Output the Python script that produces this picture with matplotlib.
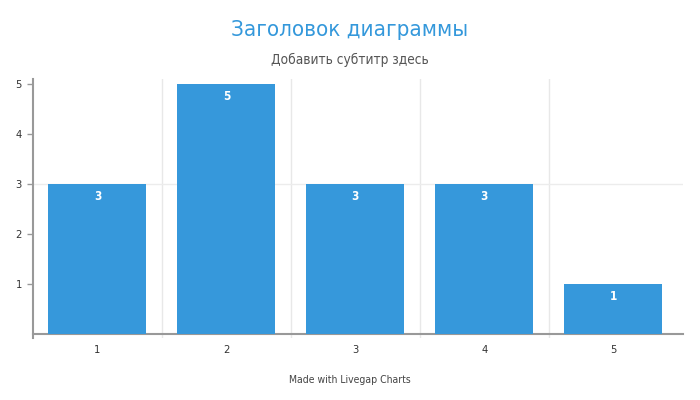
import matplotlib
matplotlib.use("Agg")
import matplotlib.pyplot as plt

# chart data
categories = ["1", "2", "3", "4", "5"]
values = [3, 5, 3, 3, 1]
yticks = [1, 2, 3, 4, 5]

title = "Заголовок диаграммы"
subtitle = "Добавить субтитр здесь"
footer = "Made with Livegap Charts"

plt.rcParams['font.family'] = ['DejaVu Sans']
plt.rcParams['font.stretch'] = 'condensed'

fig = plt.figure(figsize=(7, 4), dpi=100)
ax = fig.add_axes([33 / 700, 1 - 338 / 400, 650 / 700, (338 - 79) / 400])

x = range(len(categories))
bars = ax.bar(x, values, width=0.76, color="#3698db", zorder=3)

# value labels inside the top of each bar
for b, v in zip(bars, values):
    ax.annotate(str(v), (b.get_x() + b.get_width() / 2, v), xytext=(0, -9),
                textcoords="offset points", ha="center", va="center",
                color="white", fontsize=8.5, fontweight="bold", zorder=4)

ax.set_xlim(-0.5, 4.54)
ax.set_ylim(-0.08, 5.1)

# vertical separators between categories
for bx in [0.5, 1.5, 2.5, 3.5]:
    ax.axvline(bx, color="#e8e8e8", lw=1, zorder=1)
ax.axhline(3, color="#ececec", lw=1, zorder=1)

ax.set_xticks(list(x))
ax.set_xticklabels(categories)
ax.set_yticks(yticks)
ax.tick_params(axis="x", length=0, pad=8, labelsize=8, labelcolor="#333333")
ax.tick_params(axis="y", length=4, width=1, color="#999999", pad=4,
               labelsize=8, labelcolor="#333333")

for s in ["top", "right"]:
    ax.spines[s].set_visible(False)
ax.spines["bottom"].set_position(("data", 0))
ax.spines["bottom"].set_color("#999999")
ax.spines["bottom"].set_linewidth(1.5)
ax.spines["left"].set_color("#999999")
ax.spines["left"].set_linewidth(1.5)

fig.text(0.5, 1 - 30 / 400, title, ha="center", va="center",
         fontsize=16, color="#3498db")
fig.text(0.5, 1 - 60 / 400, subtitle, ha="center", va="center",
         fontsize=9.8, color="#555555")
fig.text(0.5, 1 - 380 / 400, footer, ha="center", va="center",
         fontsize=7.5, color="#444444")

fig.savefig("out.png", dpi=100)
